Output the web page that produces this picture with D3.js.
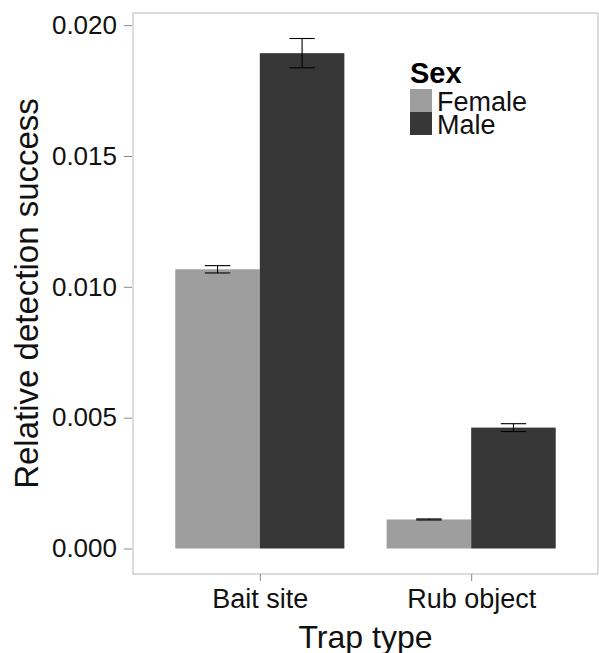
<!DOCTYPE html>
<html>
<head>
<meta charset="utf-8">
<script src="https://cdn.jsdelivr.net/npm/d3@7"></script>
<style>
  html, body { margin: 0; padding: 0; background: #fff; }
  svg { display: block; font-family: "Liberation Sans", Arial, Helvetica, sans-serif; }
</style>
</head>
<body>
<svg id="chart" width="599" height="653"></svg>
<script>
// Trap types along the x axis and the two sexes within each group
const trapTypes = ["Bait site", "Rub object"];
const sexes = ["Female", "Male"];

// Mean relative detection success per trap type, one array per sex
const femaleMeans = [0.01067, 0.00111];
const maleMeans   = [0.01893, 0.00462];

// Half-widths of the error bars (standard errors)
const femaleErrors = [0.00014, 0.00002];
const maleErrors   = [0.00056, 0.00015];

// Y axis tick values
const yTicks = [0.000, 0.005, 0.010, 0.015, 0.020];

const fillColors = { Female: "#9e9e9e", Male: "#373737" };

const rows = [];
trapTypes.forEach((t, i) => {
  rows.push({ trap: t, sex: "Female", mean: femaleMeans[i], se: femaleErrors[i] });
  rows.push({ trap: t, sex: "Male", mean: maleMeans[i], se: maleErrors[i] });
});

const svg = d3.select("#chart");
const panel = { left: 133, right: 598, top: 13, bottom: 574 };

// x: discrete positions with ggplot-style padding of 0.6 steps
const x = d3.scalePoint().domain(trapTypes).range([panel.left, panel.right]).padding(0.6);
const groupWidth = x.step() * 0.8;
const xSub = d3.scaleBand().domain(sexes).range([-groupWidth / 2, groupWidth / 2]);

// y: data range expanded 5% on each side
const yMax = d3.max(rows, d => d.mean + d.se);
const yMin = 0;
const pad = (yMax - yMin) * 0.05;
const y = d3.scaleLinear().domain([yMin - pad, yMax + pad]).range([panel.bottom, panel.top]);

// Panel background and border
svg.append("rect")
  .attr("x", panel.left).attr("y", panel.top)
  .attr("width", panel.right - panel.left).attr("height", panel.bottom - panel.top)
  .attr("fill", "#fff").attr("stroke", "#b8b8b8").attr("stroke-width", 1);

// Bars
svg.append("g").selectAll("rect.bar")
  .data(rows).join("rect")
  .attr("class", "bar")
  .attr("x", d => x(d.trap) + xSub(d.sex))
  .attr("width", xSub.bandwidth())
  .attr("y", d => y(d.mean))
  .attr("height", d => y(0) - y(d.mean))
  .attr("fill", d => fillColors[d.sex]);

// Error bars
const ebHalf = xSub.bandwidth() * 0.15;
const eb = svg.append("g").attr("stroke", "#000").attr("stroke-width", 1.1).attr("fill", "none");
rows.forEach(d => {
  const cx = x(d.trap) + xSub(d.sex) + xSub.bandwidth() / 2;
  const top = y(d.mean + d.se), bot = y(d.mean - d.se);
  eb.append("line").attr("x1", cx).attr("x2", cx).attr("y1", top).attr("y2", bot);
  eb.append("line").attr("x1", cx - ebHalf).attr("x2", cx + ebHalf).attr("y1", top).attr("y2", top);
  eb.append("line").attr("x1", cx - ebHalf).attr("x2", cx + ebHalf).attr("y1", bot).attr("y2", bot);
});

// Y axis
const yAxis = d3.axisLeft(y).tickValues(yTicks).tickFormat(d3.format(".3f")).tickSize(8).tickPadding(7);
const gy = svg.append("g").attr("transform", `translate(${panel.left - 1},0)`).call(yAxis);
gy.select(".domain").remove();
gy.selectAll(".tick line").attr("stroke", "#8a8a8a");
gy.selectAll(".tick text").attr("font-size", 26).attr("fill", "#111").attr("font-family", null);

// X axis
const xAxis = d3.axisBottom(x).tickSize(7).tickPadding(8);
const gx = svg.append("g").attr("transform", `translate(0,${panel.bottom})`).call(xAxis);
gx.select(".domain").remove();
gx.selectAll(".tick line").attr("stroke", "#8a8a8a");
gx.selectAll(".tick text").attr("font-size", 27).attr("fill", "#111").attr("font-family", null);

// Axis titles
svg.append("text")
  .attr("x", (panel.left + panel.right) / 2).attr("y", 648)
  .attr("text-anchor", "middle").attr("font-size", 32).attr("fill", "#111")
  .text("Trap type");

svg.append("text")
  .attr("transform", `translate(38,${(panel.top + panel.bottom) / 2}) rotate(-90)`)
  .attr("text-anchor", "middle").attr("font-size", 33).attr("fill", "#111")
  .text("Relative detection success");

// Legend
const legend = svg.append("g").attr("transform", "translate(410,0)");
legend.append("text").attr("x", 0).attr("y", 83)
  .attr("font-size", 29).attr("font-weight", "bold").attr("fill", "#000").text("Sex");
sexes.forEach((s, i) => {
  legend.append("rect").attr("x", 0).attr("y", 89 + i * 23)
    .attr("width", 22).attr("height", 23).attr("fill", fillColors[s]);
  legend.append("text").attr("x", 27).attr("y", 111 + i * 23)
    .attr("font-size", 27).attr("fill", "#111").text(s);
});
</script>
</body>
</html>
